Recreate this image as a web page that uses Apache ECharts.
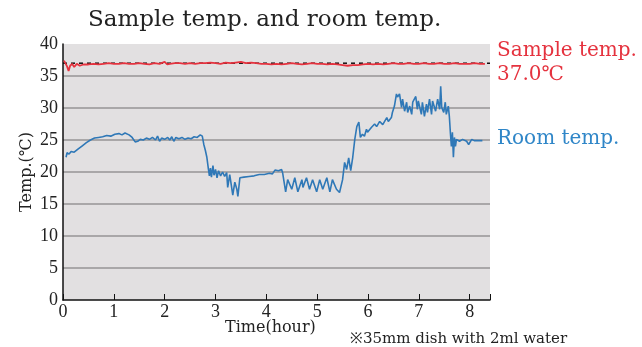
<!DOCTYPE html>
<html>
<head>
<meta charset="utf-8">
<script src="https://cdn.jsdelivr.net/npm/echarts@6/dist/echarts.min.js"></script>
<style>
  html, body { margin: 0; padding: 0; background: #fff; }
  #chart { width: 642px; height: 347px; }
</style>
</head>
<body>
<div id="chart"></div>
<script>
const roomTime = [0.06, 0.08, 0.12, 0.16, 0.22, 0.30, 0.38, 0.46, 0.54, 0.62, 0.70, 0.78, 0.86, 0.94, 1.02, 1.10, 1.16, 1.22, 1.30, 1.36,
  1.42, 1.47, 1.52, 1.58, 1.64, 1.70, 1.76, 1.82, 1.86, 1.90, 1.94, 2.00, 2.06, 2.10, 2.14, 2.18, 2.22, 2.28, 2.34, 2.40,
  2.46, 2.52, 2.58, 2.64, 2.70, 2.74, 2.77, 2.80, 2.83, 2.86, 2.88, 2.90, 2.92, 2.95, 2.97, 3.00, 3.03, 3.06, 3.10, 3.14,
  3.18, 3.22, 3.24, 3.28, 3.34, 3.38, 3.42, 3.44, 3.48, 3.56, 3.66, 3.76, 3.86, 3.96, 4.06, 4.12, 4.17, 4.20, 4.24, 4.30,
  4.32, 4.38, 4.42, 4.50, 4.56, 4.62, 4.70, 4.72, 4.79, 4.85, 4.91, 4.99, 5.05, 5.11, 5.19, 5.25, 5.30, 5.38, 5.44, 5.50,
  5.54, 5.58, 5.62, 5.66, 5.70, 5.74, 5.78, 5.82, 5.85, 5.89, 5.93, 5.97, 5.99, 6.07, 6.13, 6.17, 6.23, 6.29, 6.37, 6.40,
  6.46, 6.48, 6.52, 6.56, 6.58, 6.62, 6.66, 6.68, 6.72, 6.76, 6.78, 6.82, 6.86, 6.88, 6.94, 6.97, 6.99, 7.05, 7.07, 7.11,
  7.15, 7.17, 7.21, 7.25, 7.27, 7.33, 7.37, 7.41, 7.43, 7.45, 7.49, 7.52, 7.54, 7.58, 7.60, 7.62, 7.64, 7.66, 7.68, 7.70,
  7.72, 7.74, 7.80, 7.86, 7.94, 7.98, 8.04, 8.09, 8.15, 8.25]
const roomTemp = [22.3, 23.0, 22.8, 23.2, 23.1, 23.6, 24.1, 24.6, 25.0, 25.3, 25.4, 25.5, 25.7, 25.6, 25.9, 26.0, 25.8, 26.1, 25.8, 25.4,
  24.7, 24.8, 25.1, 25.0, 25.3, 25.1, 25.4, 25.0, 25.6, 24.8, 25.3, 25.1, 25.4, 25.0, 25.5, 24.8, 25.4, 25.2, 25.4, 25.1,
  25.3, 25.2, 25.5, 25.4, 25.8, 25.6, 24.3, 23.4, 22.3, 20.5, 19.4, 20.6, 19.2, 21.0, 19.5, 20.4, 19.1, 20.2, 19.4, 20.0,
  19.3, 19.9, 17.6, 19.6, 16.4, 18.4, 17.3, 16.2, 19.1, 19.2, 19.3, 19.4, 19.6, 19.6, 19.8, 19.7, 20.3, 20.0, 20.2, 20.4,
  19.9, 16.9, 18.8, 17.3, 19.1, 16.9, 18.8, 17.6, 19.1, 17.3, 18.8, 16.9, 18.8, 17.3, 19.1, 16.9, 18.8, 17.3, 16.8, 18.8,
  21.5, 20.4, 22.2, 20.2, 22.3, 25.1, 27.1, 27.8, 25.4, 25.9, 25.6, 26.7, 26.2, 27.0, 27.5, 27.1, 27.9, 27.4, 28.5, 27.9,
  28.5, 29.3, 30.3, 32.2, 31.7, 32.2, 30.1, 31.4, 29.5, 30.9, 29.3, 30.3, 29.0, 30.9, 31.8, 29.8, 31.1, 29.0, 30.9, 28.7,
  30.6, 29.3, 31.4, 29.0, 31.1, 29.5, 31.4, 29.8, 33.4, 30.1, 29.3, 30.9, 29.0, 30.3, 28.7, 26.2, 24.0, 26.2, 22.3, 25.4,
  24.0, 25.1, 24.8, 25.1, 24.8, 24.3, 25.1, 24.9, 24.9, 24.9]

const sampleTime = [0.02, 0.05, 0.08, 0.11, 0.14, 0.18, 0.22, 0.27, 0.33, 0.40, 0.50, 0.60, 0.70, 0.80, 0.90, 1.00, 1.10, 1.20, 1.30, 1.40,
  1.50, 1.60, 1.70, 1.80, 1.90, 2.00, 2.05, 2.10, 2.20, 2.30, 2.40, 2.50, 2.60, 2.70, 2.80, 2.90, 3.00, 3.10, 3.20, 3.30,
  3.40, 3.50, 3.60, 3.70, 3.80, 3.90, 4.00, 4.10, 4.20, 4.30, 4.40, 4.50, 4.60, 4.70, 4.80, 4.90, 5.00, 5.10, 5.20, 5.30,
  5.40, 5.50, 5.60, 5.70, 5.80, 5.90, 6.00, 6.10, 6.20, 6.30, 6.40, 6.50, 6.60, 6.70, 6.80, 6.90, 7.00, 7.10, 7.20, 7.30,
  7.40, 7.50, 7.60, 7.70, 7.80, 7.90, 8.00, 8.10, 8.20, 8.30]
const sampleTemp = [37.4, 37.6, 36.5, 35.8, 36.6, 36.9, 36.4, 36.9, 36.6, 36.8, 36.8, 36.9, 36.8, 36.9, 37.0, 36.9, 36.9, 37.0, 36.9, 36.9,
  37.0, 36.9, 36.8, 37.0, 36.9, 37.2, 36.8, 36.9, 37.0, 37.0, 36.9, 37.0, 36.9, 37.0, 37.0, 37.1, 37.0, 36.9, 37.1, 37.0,
  37.1, 37.2, 37.0, 37.1, 37.0, 36.9, 36.9, 36.8, 36.9, 36.8, 36.9, 37.0, 36.9, 36.8, 36.9, 37.0, 36.9, 36.9, 36.8, 36.9,
  36.8, 36.7, 36.6, 36.7, 36.7, 36.8, 36.9, 36.8, 36.9, 36.8, 36.9, 37.0, 36.9, 36.9, 37.0, 36.9, 36.9, 37.0, 36.9, 36.9,
  37.0, 36.9, 36.9, 37.0, 36.9, 36.9, 36.9, 37.0, 36.9, 36.9]

const setTime = [0, 8.4]
const setTemp = [37.0, 37.0]

const yTicks = [0, 5, 10, 15, 20, 25, 30, 35, 40]

const RED = '#e5323e'
const BLUE = '#2f78b7'
const FONT = 'DejaVu Serif'
const NUM_FONT = 'Liberation Serif'

const chart = echarts.init(document.getElementById('chart'))

// no grid line drawn at 0 and 40
const splitColors = yTicks.map(v => (v === 0 || v === 40) ? 'rgba(0,0,0,0)' : '#a9a7a8')

chart.setOption({
  animation: false,
  textStyle: { fontFamily: FONT },
  grid: {
    left: 63, right: 152, top: 44, bottom: 47,
    show: true, backgroundColor: '#e2e0e1', borderWidth: 0
  },
  xAxis: {
    type: 'value', min: 0, max: 8.4, interval: 1,
    axisLine: { lineStyle: { color: '#111', width: 1.5 } },
    axisTick: { inside: true, length: 6, lineStyle: { color: '#111' } },
    axisLabel: {
      color: '#222', fontSize: 18, fontFamily: NUM_FONT, margin: 3,
      formatter: v => (v > 8 ? '' : v)
    },
    splitLine: { show: false }
  },
  yAxis: {
    type: 'value', min: 0, max: 40, interval: 5,
    axisLine: { show: true, lineStyle: { color: '#111', width: 1.5 } },
    axisTick: { show: false },
    axisLabel: { color: '#222', fontSize: 18, fontFamily: NUM_FONT, margin: 5 },
    splitLine: { lineStyle: { color: splitColors, width: 2 } }
  },
  graphic: [
    { type: 'text', left: 88, top: 9, style: { text: 'Sample temp. and room temp.', font: '23px "DejaVu Serif"', fill: '#222' } },
    { type: 'text', left: 497, top: 41, style: { text: 'Sample temp.', font: '20px "DejaVu Serif"', fill: RED } },
    { type: 'text', left: 497, top: 65, style: { text: '37.0℃', font: '20px "DejaVu Serif"', fill: RED } },
    { type: 'text', left: 497, top: 129, style: { text: 'Room temp.', font: '20px "DejaVu Serif"', fill: '#2f86c8' } },
    { type: 'text', left: 225, top: 320, style: { text: 'Time(hour)', font: '16px "DejaVu Serif"', fill: '#222' } },
    { type: 'text', left: 350, top: 332, style: { text: '※35mm dish with 2ml water', font: '15px "DejaVu Serif"', fill: '#222' } },
    {
      type: 'text', x: 27, y: 172, rotation: Math.PI / 2, originX: 0, originY: 0,
      style: { text: 'Temp.(℃)', font: '16px "DejaVu Serif"', fill: '#222', align: 'center', verticalAlign: 'middle' }
    }
  ],
  series: [
    {
      name: 'Room temp.', type: 'line', showSymbol: false, z: 3,
      data: roomTime.map((t, i) => [t, roomTemp[i]]),
      lineStyle: { color: BLUE, width: 1.6 }
    },
    {
      name: 'Set', type: 'line', showSymbol: false, z: 2,
      data: setTime.map((t, i) => [t, setTemp[i]]),
      lineStyle: { color: '#111', width: 1.5, type: [4, 4] }
    },
    {
      name: 'Sample temp.', type: 'line', showSymbol: false, z: 4,
      data: sampleTime.map((t, i) => [t, sampleTemp[i]]),
      lineStyle: { color: RED, width: 1.8 }
    }
  ]
})
</script>
</body>
</html>
